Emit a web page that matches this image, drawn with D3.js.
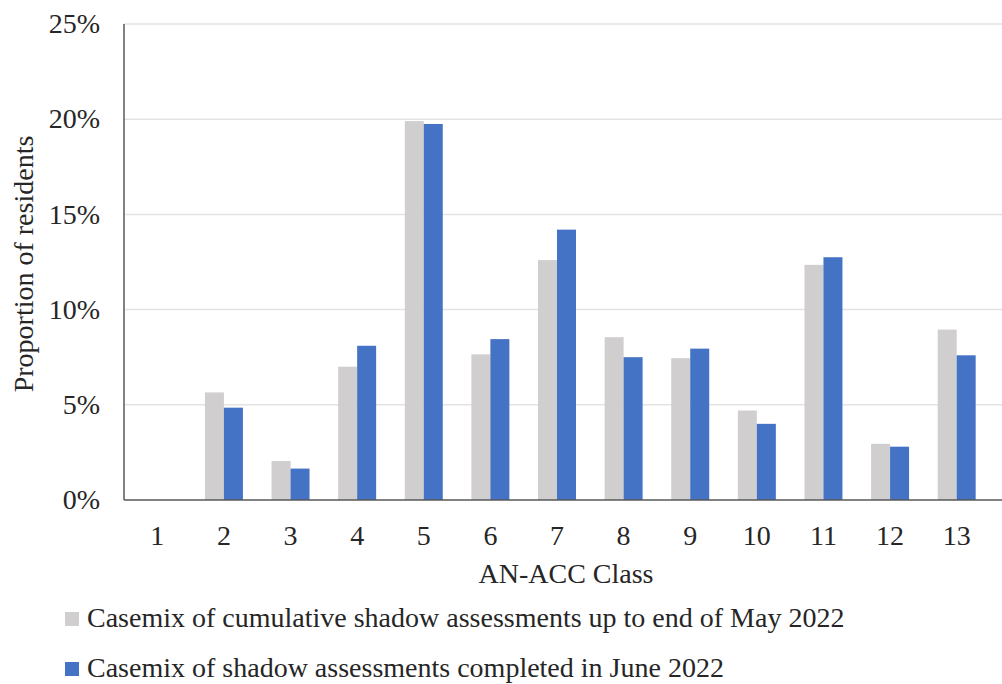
<!DOCTYPE html>
<html>
<head>
<meta charset="utf-8">
<script src="https://cdn.jsdelivr.net/npm/d3@7"></script>
<style>
  body { margin: 0; background: #fff; }
  svg text { font-family: "Liberation Serif", "Times New Roman", serif; fill: #262626; }
</style>
</head>
<body>
<svg id="chart" width="1002" height="684"></svg>
<script>
// AN-ACC classes
const classes = ['1', '2', '3', '4', '5', '6', '7', '8', '9', '10', '11', '12', '13'];
// proportion of residents (%)
const cumulativeMay = [0, 5.65, 2.05, 7.0, 19.9, 7.65, 12.6, 8.55, 7.45, 4.7, 12.35, 2.95, 8.95];
const juneAssess = [0, 4.85, 1.65, 8.1, 19.75, 8.45, 14.2, 7.5, 7.95, 4.0, 12.75, 2.8, 7.6];
const seriesNames = [
  'Casemix of cumulative shadow assessments up to end of May 2022',
  'Casemix of shadow assessments completed in June 2022'
];
const seriesColors = ['#d0cece', '#4472c4'];
const yTicks = [0, 5, 10, 15, 20, 25];

const svg = d3.select('#chart');
const mLeft = 124, mRight = 990, mTop = 24, mBottom = 500;
const fs = '28px';

const x = d3.scaleBand().domain(classes).range([mLeft, mRight]).paddingInner(0.43).paddingOuter(0.215);
const x1 = d3.scaleBand().domain([0, 1]).range([0, x.bandwidth()]);
const y = d3.scaleLinear().domain([0, 25]).range([mBottom, mTop]);

// gridlines
svg.append('g')
  .selectAll('line')
  .data(yTicks.filter(d => d > 0))
  .join('line')
  .attr('x1', mLeft).attr('x2', 1002)
  .attr('y1', d => y(d)).attr('y2', d => y(d))
  .style('stroke', '#e3e3e3')
  .style('stroke-width', 1.5);

// y tick labels
svg.append('g')
  .selectAll('text')
  .data(yTicks)
  .join('text')
  .attr('x', 100)
  .attr('y', d => y(d))
  .attr('dy', '0.33em')
  .attr('text-anchor', 'end')
  .style('font-size', fs)
  .text(d => d + '%');

// bars
const rows = classes.map((c, i) => ({ c: c, v: [cumulativeMay[i], juneAssess[i]] }));
const grp = svg.append('g')
  .selectAll('g')
  .data(rows)
  .join('g')
  .attr('transform', d => `translate(${x(d.c)},0)`);

grp.selectAll('rect')
  .data(d => d.v.map((v, k) => ({ v: v, k: k })))
  .join('rect')
  .attr('x', d => x1(d.k))
  .attr('y', d => y(d.v))
  .attr('width', x1.bandwidth())
  .attr('height', d => mBottom - y(d.v))
  .style('fill', d => seriesColors[d.k]);

// axes lines
svg.append('line')
  .attr('x1', mLeft).attr('x2', mLeft).attr('y1', mTop).attr('y2', mBottom)
  .style('stroke', '#595959').style('stroke-width', 1.5);
svg.append('line')
  .attr('x1', mLeft).attr('x2', 1002).attr('y1', mBottom).attr('y2', mBottom)
  .style('stroke', '#595959').style('stroke-width', 1.5);

// x tick labels
svg.append('g')
  .selectAll('text')
  .data(classes)
  .join('text')
  .attr('x', d => x(d) + x.bandwidth() / 2)
  .attr('y', 545)
  .attr('text-anchor', 'middle')
  .style('font-size', fs)
  .text(d => d);

// axis titles
svg.append('text')
  .attr('x', 566).attr('y', 583)
  .attr('text-anchor', 'middle')
  .style('font-size', fs)
  .text('AN-ACC Class');

svg.append('text')
  .attr('transform', 'translate(33,264) rotate(-90)')
  .attr('text-anchor', 'middle')
  .style('font-size', fs)
  .text('Proportion of residents');

// legend
const leg = svg.append('g')
  .selectAll('g')
  .data(seriesNames)
  .join('g')
  .attr('transform', (d, i) => `translate(65,${612 + i * 50})`);

leg.append('rect')
  .attr('width', 14).attr('height', 14)
  .style('fill', (d, i) => seriesColors[i]);

leg.append('text')
  .attr('x', 22).attr('y', 15)
  .style('font-size', fs)
  .text(d => d);
</script>
</body>
</html>
